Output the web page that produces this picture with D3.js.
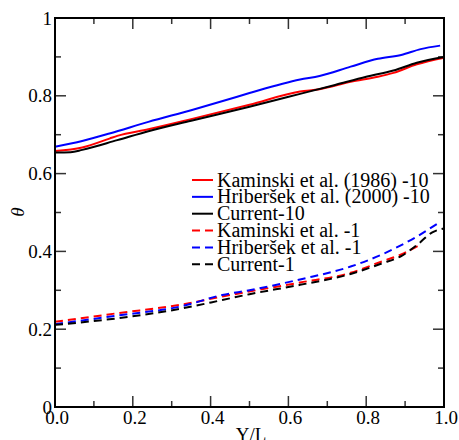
<!DOCTYPE html>
<html>
<head>
<meta charset="utf-8">
<script src="https://d3js.org/d3.v7.min.js"></script>
<style>
  html, body { margin: 0; padding: 0; background: #fff; }
  svg { display: block; }
  text { font-family: "Liberation Serif", Tinos, "Times New Roman", "DejaVu Serif", serif; }
</style>
</head>
<body>
<script>
// ---- data ----
const kam10X = [0, 0.07, 0.14, 0.16, 0.24, 0.35, 0.50, 0.63, 0.68, 0.76, 0.83, 0.87, 0.93, 1.0];
const kam10Y = [0.658, 0.667, 0.690, 0.697, 0.714, 0.740, 0.777, 0.811, 0.817, 0.836, 0.849, 0.859, 0.881, 0.898];

const hri10X = [0, 0.07, 0.14, 0.24, 0.35, 0.44, 0.50, 0.63, 0.68, 0.76, 0.83, 0.89, 0.94, 0.99];
const hri10Y = [0.669, 0.684, 0.703, 0.733, 0.763, 0.789, 0.807, 0.842, 0.851, 0.875, 0.895, 0.905, 0.920, 0.929];

const cur10X = [0, 0.04, 0.07, 0.16, 0.24, 0.35, 0.50, 0.63, 0.72, 0.80, 0.87, 0.93, 1.0];
const cur10Y = [0.654, 0.655, 0.661, 0.686, 0.709, 0.736, 0.772, 0.805, 0.828, 0.849, 0.865, 0.885, 0.900];

const kam1X = [0, 0.16, 0.33, 0.43, 0.50, 0.63, 0.76, 0.84, 0.89, 0.94];
const kam1Y = [0.219, 0.241, 0.264, 0.284, 0.297, 0.320, 0.345, 0.374, 0.392, 0.418];

const hri1X = [0, 0.16, 0.33, 0.43, 0.50, 0.63, 0.76, 0.84, 0.93, 0.99];
const hri1Y = [0.213, 0.235, 0.260, 0.288, 0.300, 0.328, 0.361, 0.392, 0.438, 0.476];

const cur1X = [0, 0.16, 0.33, 0.43, 0.50, 0.63, 0.76, 0.84, 0.89, 0.93, 0.97, 1.0];
const cur1Y = [0.211, 0.228, 0.254, 0.275, 0.290, 0.314, 0.342, 0.369, 0.388, 0.416, 0.449, 0.459];

const seriesNames = ["Kaminski et al. (1986) -10", "Hriberšek et al. (2000) -10", "Current-10",
                     "Kaminski et al. -1", "Hriberšek et al. -1", "Current-1"];
const xTicks = [0, 0.2, 0.4, 0.6, 0.8, 1.0];
const xTickLabels = ["0.0", "0.2", "0.4", "0.6", "0.8", "1.0"];
const yTicks = [0, 0.2, 0.4, 0.6, 0.8, 1.0];
const yTickLabels = ["0", "0.2", "0.4", "0.6", "0.8", "1"];
const xLabel = "Y/L";
const yLabel = "θ";

// ---- build ----
const W = 459, H = 440;
const L = 55, R = 444, T = 18, B = 407;
const svg = d3.select("body").append("svg").attr("width", W).attr("height", H);

const x = d3.scaleLinear().domain([0, 1]).range([L, R]);
const y = d3.scaleLinear().domain([0, 1]).range([B, T]);

const styles = [
  { color: "#ff0000", dash: null },
  { color: "#0000ff", dash: null },
  { color: "#000000", dash: null },
  { color: "#ff0000", dash: "8,5" },
  { color: "#0000ff", dash: "8,5" },
  { color: "#000000", dash: "8,5" }
];
const data = [
  d3.zip(kam10X, kam10Y), d3.zip(hri10X, hri10Y), d3.zip(cur10X, cur10Y),
  d3.zip(kam1X, kam1Y), d3.zip(hri1X, hri1Y), d3.zip(cur1X, cur1Y)
];

const line = d3.line().x(d => x(d[0])).y(d => y(d[1])).curve(d3.curveMonotoneX);

// ticks (minor+major), all four sides, inward
const minor = d3.range(0.1, 1.0, 0.2);
const tg = svg.append("g").attr("stroke", "#333").attr("stroke-width", 1.5);
function addTicks(vals, len) {
  vals.forEach(v => {
    tg.append("line").attr("x1", x(v)).attr("x2", x(v)).attr("y1", B).attr("y2", B - len);
    tg.append("line").attr("x1", x(v)).attr("x2", x(v)).attr("y1", T).attr("y2", T + len);
    tg.append("line").attr("y1", y(v)).attr("y2", y(v)).attr("x1", L).attr("x2", L + len);
    tg.append("line").attr("y1", y(v)).attr("y2", y(v)).attr("x1", R).attr("x2", R - len);
  });
}
addTicks(minor, 6);
addTicks(xTicks.slice(1, -1), 11);

// data lines
data.forEach((d, i) => {
  svg.append("path").datum(d)
    .attr("d", line)
    .attr("fill", "none")
    .attr("stroke", styles[i].color)
    .attr("stroke-width", 2)
    .attr("stroke-dasharray", styles[i].dash);
});

// frame
svg.append("rect").attr("x", L).attr("y", T).attr("width", R - L).attr("height", B - T)
  .attr("fill", "none").attr("stroke", "#000").attr("stroke-width", 2);

// tick labels
xTicks.forEach((v, i) => {
  svg.append("text").attr("x", x(v) + 2).attr("y", 423.5)
    .attr("text-anchor", "middle").attr("font-size", 19)
    .text(xTickLabels[i]);
});
yTicks.forEach((v, i) => {
  svg.append("text").attr("x", 52).attr("y", y(v)).attr("dy", "0.35em")
    .attr("text-anchor", "end").attr("font-size", 19)
    .text(yTickLabels[i]);
});

// axis labels
svg.append("text").attr("x", 251).attr("y", 441).attr("text-anchor", "middle")
  .attr("font-size", 19).text(xLabel);
svg.append("text").attr("transform", "translate(24,212) rotate(-90)")
  .attr("text-anchor", "middle").attr("font-style", "italic")
  .attr("font-size", 19).text(yLabel);

// legend
const lg = svg.append("g");
seriesNames.forEach((name, i) => {
  const yy = 180 + i * 16.85;
  lg.append("line").attr("x1", 192).attr("x2", 213).attr("y1", yy).attr("y2", yy)
    .attr("stroke", styles[i].color).attr("stroke-width", 2)
    .attr("stroke-dasharray", styles[i].dash);
  lg.append("text").attr("x", 217).attr("y", yy).attr("dy", "0.33em")
    .attr("font-size", 20).text(name);
});
</script>
</body>
</html>
